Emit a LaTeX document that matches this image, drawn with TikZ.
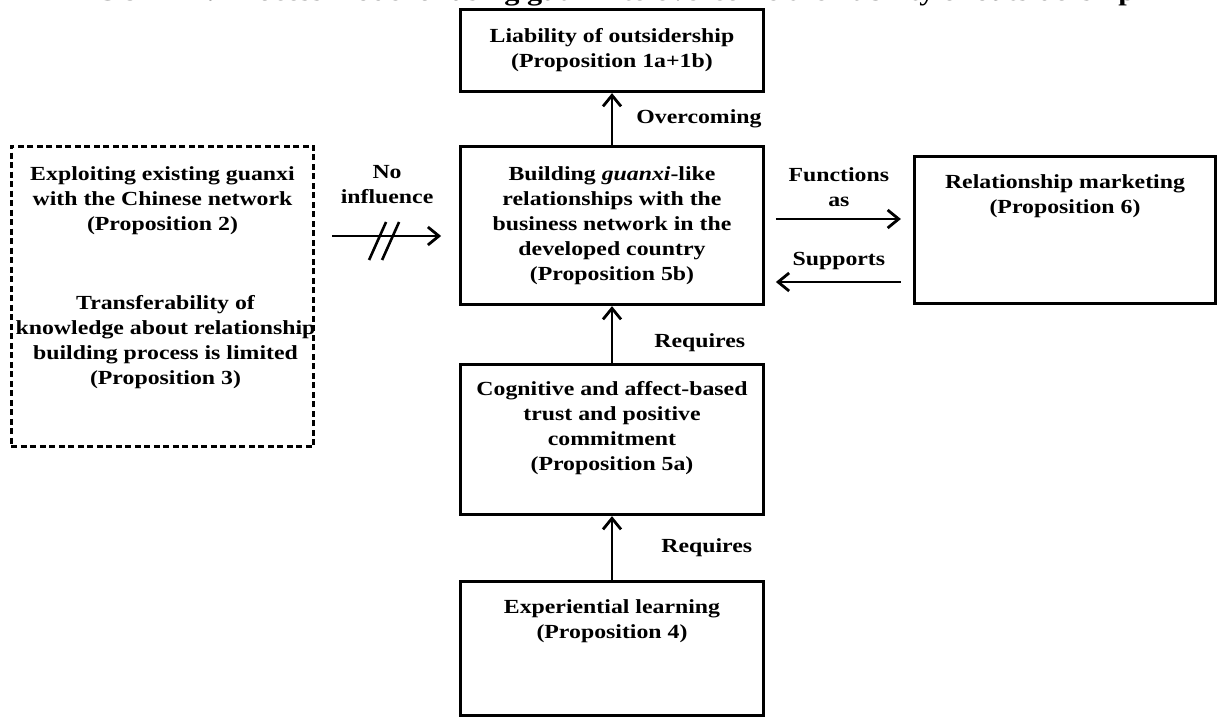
\documentclass[tikz,border=0pt]{standalone}
\usepackage{fontspec}
\setmainfont{Liberation Serif}[FakeStretch=1.19]
\usetikzlibrary{positioning}
\usetikzlibrary{arrows.meta}
\tikzset{
        textfont/.style={font=\bfseries\fontsize{20}{25}\selectfont},
        % Solid boxes
        node_box/.style={textfont, draw=black, line width=2.8pt, align=center, inner sep=0pt, minimum width=303pt},
        % Dashed box
        node_dashed/.style={draw=black, line width=2.6pt, dash pattern=on 6pt off 3.5pt, inner sep=0pt},
        % Texts inside boxes
        node_text/.style={textfont, align=center, inner sep=0pt},
        % Labels of arrows
        node_label/.style={textfont, align=center, inner sep=0pt},
        % Arrows
        link/.style={-{Straight Barb[length=11pt,width=18pt]}, line width=2.8pt}
}
\begin{document}
\begin{tikzpicture}[x=1pt, y=-1pt]
    \useasboundingbox (0,0) rectangle (1220,719);
    % caption, cut by the page edge
    \node[font=\bfseries\fontsize{25.5}{30}\selectfont, anchor=base, inner sep=0pt] (caption) at (600,1)
        {FIGURE 1: Process model of using guanxi to overcome the liability of outsidership};

    \node[node_box, minimum height=82.5pt] (liability) at (612,50.5) {Liability of outsidership\\(Proposition 1a+1b)};
    \node[node_box, minimum height=158.5pt] (guanxi) at (612,225.5) {Building \textit{guanxi}-like\\relationships with the\\business network in the\\developed country\\(Proposition 5b)};
    \node[node_box, minimum height=150.5pt] (trust) at (612,439.5) {};
    \node[node_text, below=18pt of trust.north] (trust_text) {Cognitive and affect-based\\trust and positive\\commitment\\(Proposition 5a)};
    \node[node_box, minimum height=134.5pt] (learning) at (612,648.5) {};
    \node[node_text, below=20pt of learning.north] (learning_text) {Experiential learning\\(Proposition 4)};
    \node[node_box, minimum width=301.5pt, minimum height=147.5pt] (marketing) at (1065,230) {};
    \node[node_text, below=20pt of marketing.north] (marketing_text) {Relationship marketing\\(Proposition 6)};
    \node[node_dashed, minimum width=302.5pt, minimum height=300.5pt] (existing) at (162.5,296.5) {};
    \node[node_text, below=21pt of existing.north] (existing_text) {Exploiting existing guanxi\\with the Chinese network\\(Proposition 2)};
    \node[node_text, below=150pt of existing.north, xshift=3pt] (transfer_text) {Transferability of\\knowledge about relationship\\building process is limited\\(Proposition 3)};

    % vertical arrows
    \draw[link] (guanxi) -- (liability) node[node_label, midway, right=23pt] {Overcoming};
    \draw[link] (trust) -- (guanxi) node[node_label, pos=0.35, right=41pt] {Requires};
    \draw[link] (learning) -- (trust) node[node_label, midway, right=48pt] {Requires};

    % horizontal arrows
    \coordinate (functions_end) at ([yshift=6.5pt]guanxi.east);
    \draw[link, shorten <=11pt, shorten >=12pt] (functions_end) -- (functions_end -| marketing.west)
        node[node_label, midway, above=11pt] {Functions\\as};
    \coordinate (supports_end) at ([yshift=-56.5pt]guanxi.east);
    \draw[link, shorten <=12pt, shorten >=11pt] (supports_end -| marketing.west) -- (supports_end)
        node[node_label, midway, above=11pt] {Supports};
    \coordinate (influence_end) at ([yshift=-10.5pt]guanxi.west);
    \draw[link, shorten <=17pt, shorten >=18pt] (influence_end -| existing.east) -- (influence_end)
        node[node_label, midway, above=31pt] {No\\influence}
        coordinate[midway] (cut);
    \draw[line width=2.6pt] ([shift={(-18,24)}]cut) -- ++(17,-38);
    \draw[line width=2.6pt] ([shift={(-5,24)}]cut) -- ++(17,-38);
\end{tikzpicture}
\end{document}
